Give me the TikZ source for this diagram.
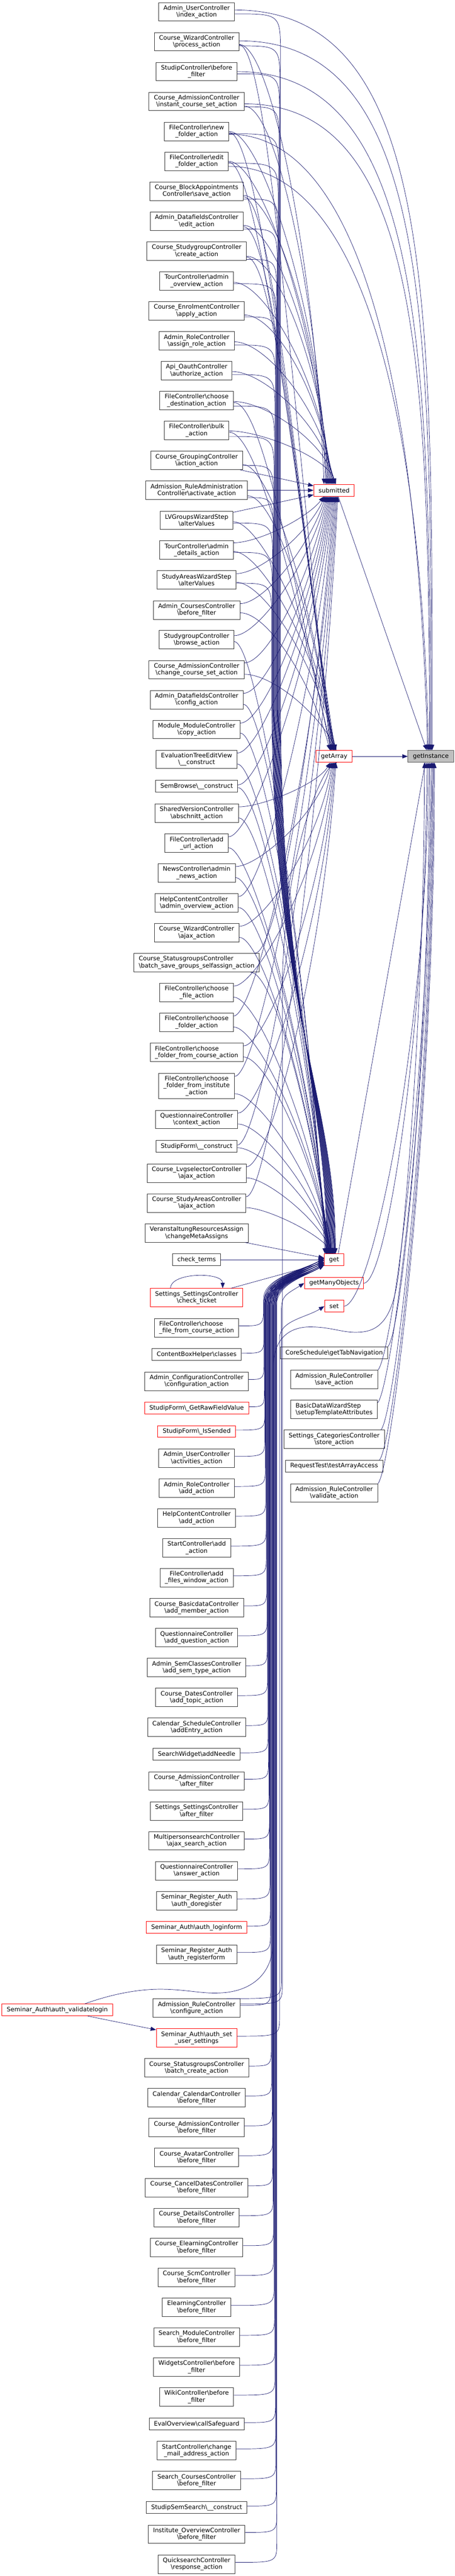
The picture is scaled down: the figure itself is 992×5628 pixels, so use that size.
\documentclass[tikz,border=0pt]{standalone}
\usepackage{fontspec}
\setmainfont{DejaVu Sans}
\usetikzlibrary{arrows.meta,calc}
\definecolor{edgeblue}{HTML}{191970}

\begin{document}
\begin{tikzpicture}[
        x=1pt, y=1pt,
        fn/.style={rectangle, draw=black!80, line width=1.1pt, fill=white, inner xsep=10.5pt, inner ysep=0pt, minimum height=40.3pt, align=center, font=\fontsize{13.3}{15}\selectfont},
        truncated/.style={fn, draw=red},
        one/.style={minimum height=25.7pt},
        three/.style={minimum height=55pt},
        target/.style={fn, one, fill=black!25, draw=black!65},
        call/.style={draw=edgeblue, line width=0.8pt, -{Triangle[length=12pt,width=9pt]}},
        fan/.style n args={3}{to path={let \p1=(\tikztostart), \p2=(\tikztotarget) in .. controls (\x1+#1,\y1) and ($(\p2)!#2!(\x2,\y1)+(#3,0)$) .. (\p2)}},
        rise/.style={to path={let \p1=(\tikztostart), \p2=(\tikztotarget) in .. controls (\x1+#1,\y1+#1) and ($(\p2)!0.5!(\x2,\y1)$) .. (\p2)}},
        bdn/.style={to path={let \p1=(\tikztostart), \p2=(\tikztotarget) in .. controls (#1,\y1) .. (#1,\y1-90) -- (#1,-1550) .. controls (#1+4,-2200) and (\x2,-2400) .. (\p2)}},
        bup/.style 2 args={to path={let \p1=(\tikztostart), \p2=(\tikztotarget) in .. controls (#1,\y1) .. (#1,\y1+45) -- (#1,\y2-#2) .. controls (#1,\y2-0.45*#2) and (\x2-40,\y2-25) .. (\p2)}}
    ]
        \useasboundingbox (0,0) rectangle (992,-5628);

        % callers, left column
        \node[fn] (user_index) at (429,-25.8) {Admin\_UserController\\\textbackslash index\_action};
        \node[fn] (wizard_process) at (429,-91.2) {Course\_WizardController\\\textbackslash process\_action};
        \node[fn] (studip_before) at (429,-156.5) {StudipController\textbackslash before\\\_filter};
        \node[fn] (admission_instant) at (429,-221.8) {Course\_AdmissionController\\\textbackslash instant\_course\_set\_action};
        \node[fn] (file_newfolder) at (429,-287.2) {FileController\textbackslash new\\\_folder\_action};
        \node[fn] (file_editfolder) at (429,-352.5) {FileController\textbackslash edit\\\_folder\_action};
        \node[fn] (block_save) at (429,-417.8) {Course\_BlockAppointments\\Controller\textbackslash save\_action};
        \node[fn] (datafields_edit) at (429,-483.2) {Admin\_DatafieldsController\\\textbackslash edit\_action};
        \node[fn] (studygroup_create) at (429,-548.8) {Course\_StudygroupController\\\textbackslash create\_action};
        \node[fn] (tour_overview) at (429,-613.8) {TourController\textbackslash admin\\\_overview\_action};
        \node[fn] (enrolment_apply) at (429,-679.2) {Course\_EnrolmentController\\\textbackslash apply\_action};
        \node[fn] (role_assign) at (429,-744.8) {Admin\_RoleController\\\textbackslash assign\_role\_action};
        \node[fn] (oauth_authorize) at (429,-809.8) {Api\_OauthController\\\textbackslash authorize\_action};
        \node[fn] (file_destination) at (429,-875.2) {FileController\textbackslash choose\\\_destination\_action};
        \node[fn] (file_bulk) at (429,-940.5) {FileController\textbackslash bulk\\\_action};
        \node[fn] (grouping_action) at (429,-1005.8) {Course\_GroupingController\\\textbackslash action\_action};
        \node[fn] (ruleadmin_activate) at (429,-1071.2) {Admission\_RuleAdministration\\Controller\textbackslash activate\_action};
        \node[fn] (lvgroups_alter) at (429,-1136.8) {LVGroupsWizardStep\\\textbackslash alterValues};
        \node[fn] (tour_details) at (429,-1201.8) {TourController\textbackslash admin\\\_details\_action};
        \node[fn] (studyareas_alter) at (429,-1267.2) {StudyAreasWizardStep\\\textbackslash alterValues};
        \node[fn] (courses_before) at (429,-1332.8) {Admin\_CoursesController\\\textbackslash before\_filter};
        \node[fn] (studygroup_browse) at (429,-1397.8) {StudygroupController\\\textbackslash browse\_action};
        \node[fn] (admission_change) at (429,-1463.2) {Course\_AdmissionController\\\textbackslash change\_course\_set\_action};
        \node[fn] (datafields_config) at (429,-1528.8) {Admin\_DatafieldsController\\\textbackslash config\_action};
        \node[fn] (module_copy) at (429,-1593.8) {Module\_ModuleController\\\textbackslash copy\_action};
        \node[fn] (evaltree_construct) at (429,-1659.2) {EvaluationTreeEditView\\\textbackslash\_\_construct};
        \node[fn,one] (sembrowse_construct) at (429,-1717.8) {SemBrowse\textbackslash\_\_construct};
        \node[fn] (shared_abschnitt) at (429,-1776.8) {SharedVersionController\\\textbackslash abschnitt\_action};
        \node[fn] (file_addurl) at (429,-1842.2) {FileController\textbackslash add\\\_url\_action};
        \node[fn] (news_admin) at (429,-1907.2) {NewsController\textbackslash admin\\\_news\_action};
        \node[fn,align=left] (help_overview) at (429,-1972.8) {HelpContentController\\\textbackslash admin\_overview\_action};
        \node[fn] (wizard_ajax) at (429,-2037.8) {Course\_WizardController\\\textbackslash ajax\_action};
        \node[fn,align=left] (statusgroups_selfassign) at (429,-2103.2) {Course\_StatusgroupsController\\\textbackslash batch\_save\_groups\_selfassign\_action};
        \node[fn] (file_choosefile) at (429,-2168.5) {FileController\textbackslash choose\\\_file\_action};
        \node[fn] (file_choosefolder) at (429,-2233.8) {FileController\textbackslash choose\\\_folder\_action};
        \node[fn,align=left] (file_foldercourse) at (429,-2299.2) {FileController\textbackslash choose\\\_folder\_from\_course\_action};
        \node[fn,three] (file_folderinst) at (429,-2372.5) {FileController\textbackslash choose\\\_folder\_from\_institute\\\_action};
        \node[fn] (questionnaire_context) at (429,-2445.8) {QuestionnaireController\\\textbackslash context\_action};
        \node[fn,one] (form_construct) at (429,-2504.5) {StudipForm\textbackslash\_\_construct};
        \node[fn] (lvgselector_ajax) at (429,-2563.2) {Course\_LvgselectorController\\\textbackslash ajax\_action};
        \node[fn] (studyareas_ajax) at (429,-2628.5) {Course\_StudyAreasController\\\textbackslash ajax\_action};
        \node[fn] (resources_change) at (429,-2693.8) {VeranstaltungResourcesAssign\\\textbackslash changeMetaAssigns};
        \node[fn,one] (check_terms) at (429,-2752.5) {check\_terms};
        \node[truncated] (settings_ticket) at (429,-2835.2) {Settings\_SettingsController\\\textbackslash check\_ticket};
        \node[fn,align=left] (file_filecourse) at (429,-2900.8) {FileController\textbackslash choose\\\_file\_from\_course\_action};
        \node[fn,one] (contentbox_classes) at (429,-2959.5) {ContentBoxHelper\textbackslash classes};
        \node[fn] (configuration_action) at (429,-3017.8) {Admin\_ConfigurationController\\\textbackslash configuration\_action};
        \node[truncated,one] (form_rawvalue) at (429,-3076.5) {StudipForm\textbackslash\_GetRawFieldValue};
        \node[truncated,one] (form_issended) at (429,-3127.5) {StudipForm\textbackslash\_IsSended};
        \node[fn] (user_activities) at (429,-3185.8) {Admin\_UserController\\\textbackslash activities\_action};
        \node[fn] (role_add) at (429,-3251.5) {Admin\_RoleController\\\textbackslash add\_action};
        \node[fn] (help_add) at (429,-3316.5) {HelpContentController\\\textbackslash add\_action};
        \node[fn] (start_add) at (429,-3381.8) {StartController\textbackslash add\\\_action};
        \node[fn] (file_addwindow) at (429,-3446.8) {FileController\textbackslash add\\\_files\_window\_action};
        \node[fn] (basicdata_member) at (429,-3512.5) {Course\_BasicdataController\\\textbackslash add\_member\_action};
        \node[fn] (questionnaire_addq) at (429,-3577.8) {QuestionnaireController\\\textbackslash add\_question\_action};
        \node[fn] (semclasses_add) at (429,-3643.2) {Admin\_SemClassesController\\\textbackslash add\_sem\_type\_action};
        \node[fn] (dates_topic) at (429,-3708.5) {Course\_DatesController\\\textbackslash add\_topic\_action};
        \node[fn] (schedule_add) at (429,-3773.8) {Calendar\_ScheduleController\\\textbackslash addEntry\_action};
        \node[fn,one] (search_needle) at (429,-3832.5) {SearchWidget\textbackslash addNeedle};
        \node[fn] (admission_after) at (429,-3891.2) {Course\_AdmissionController\\\textbackslash after\_filter};
        \node[fn] (settings_after) at (429,-3956.8) {Settings\_SettingsController\\\textbackslash after\_filter};
        \node[fn] (multiperson_ajax) at (429,-4021.8) {MultipersonsearchController\\\textbackslash ajax\_search\_action};
        \node[fn] (questionnaire_answer) at (429,-4087.2) {QuestionnaireController\\\textbackslash answer\_action};
        \node[fn] (register_do) at (429,-4152.8) {Seminar\_Register\_Auth\\\textbackslash auth\_doregister};
        \node[truncated,one] (auth_loginform) at (429,-4211.2) {Seminar\_Auth\textbackslash auth\_loginform};
        \node[fn] (register_form) at (429,-4269.8) {Seminar\_Register\_Auth\\\textbackslash auth\_registerform};
        \node[fn] (rule_configure) at (429,-4387.2) {Admission\_RuleController\\\textbackslash configure\_action};
        \node[truncated] (auth_usersettings) at (429,-4452.5) {Seminar\_Auth\textbackslash auth\_set\\\_user\_settings};
        \node[truncated,one] (auth_validatelogin) at (125,-4391.2) {Seminar\_Auth\textbackslash auth\_validatelogin};
        \node[fn] (statusgroups_create) at (429,-4517.8) {Course\_StatusgroupsController\\\textbackslash batch\_create\_action};
        \node[fn] (calendar_before) at (429,-4583.2) {Calendar\_CalendarController\\\textbackslash before\_filter};
        \node[fn] (admission_before) at (429,-4648.5) {Course\_AdmissionController\\\textbackslash before\_filter};
        \node[fn] (avatar_before) at (429,-4713.8) {Course\_AvatarController\\\textbackslash before\_filter};
        \node[fn] (canceldates_before) at (429,-4779.5) {Course\_CancelDatesController\\\textbackslash before\_filter};
        \node[fn] (details_before) at (429,-4844.8) {Course\_DetailsController\\\textbackslash before\_filter};
        \node[fn] (celearning_before) at (429,-4910.2) {Course\_ElearningController\\\textbackslash before\_filter};
        \node[fn] (scm_before) at (429,-4975.5) {Course\_ScmController\\\textbackslash before\_filter};
        \node[fn] (elearning_before) at (429,-5040.8) {ElearningController\\\textbackslash before\_filter};
        \node[fn] (searchmodule_before) at (429,-5106.2) {Search\_ModuleController\\\textbackslash before\_filter};
        \node[fn] (widgets_before) at (429,-5171.5) {WidgetsController\textbackslash before\\\_filter};
        \node[fn] (wiki_before) at (429,-5236.8) {WikiController\textbackslash before\\\_filter};
        \node[fn,one] (eval_safeguard) at (429,-5295.8) {EvalOverview\textbackslash callSafeguard};
        \node[fn] (start_mail) at (429,-5354.2) {StartController\textbackslash change\\\_mail\_address\_action};
        \node[fn] (searchcourses_before) at (429,-5419.5) {Search\_CoursesController\\\textbackslash before\_filter};
        \node[fn,one] (semsearch_construct) at (429,-5478.2) {StudipSemSearch\textbackslash\_\_construct};
        \node[fn] (institute_before) at (429,-5536.8) {Institute\_OverviewController\\\textbackslash before\_filter};
        \node[fn] (quicksearch_response) at (429,-5602.2) {QuicksearchController\\\textbackslash response\_action};

        % Request methods and direct callers, middle column
        \node[truncated,one] (submitted) at (729,-1071.2) {submitted};
        \node[truncated,one] (get_array) at (729,-1652.5) {getArray};
        \node[target] (get_instance) at (940,-1652.5) {getInstance};
        \node[truncated,one] (get_value) at (729,-2752.5) {get};
        \node[truncated,one] (get_many) at (729,-2803.3) {getManyObjects};
        \node[truncated,one] (set_value) at (729,-2853.7) {set};
        \node[fn,one] (schedule_tabs) at (729,-2955.5) {CoreSchedule\textbackslash getTabNavigation};
        \node[fn] (rule_save) at (729,-3014) {Admission\_RuleController\\\textbackslash save\_action};
        \node[fn,align=left] (basic_template) at (729,-3079.2) {BasicDataWizardStep\\\textbackslash setupTemplateAttributes};
        \node[fn] (categories_store) at (729,-3144.5) {Settings\_CategoriesController\\\textbackslash store\_action};
        \node[fn,one] (request_test) at (729,-3203.2) {RequestTest\textbackslash testArrayAccess};
        \node[fn] (rule_validate) at (729,-3262) {Admission\_RuleController\\\textbackslash validate\_action};

        % into getInstance
        \draw[call] (get_array) -- (get_instance);
        \draw[call] ([xshift=9pt]submitted.south) -- ([xshift=-9pt]get_instance.north);
        \draw[call] ([xshift=9pt]get_value.north) -- ([xshift=-12pt]get_instance.south);
        \draw[call,fan={50}{0.5}{0}] (get_many.east) to ([xshift=-9pt]get_instance.south);
        \draw[call,fan={60}{0.5}{0}] (set_value.east) to ([xshift=-6pt]get_instance.south);
        \draw[call,rise=30] (schedule_tabs.north east) to ([xshift=-3pt]get_instance.south);
        \draw[call,rise=30] (rule_save.north east) to (get_instance.south);
        \draw[call,rise=30] ([yshift=-6pt]basic_template.north east) to ([xshift=2pt]get_instance.south);
        \draw[call,rise=30] ([xshift=-8pt]categories_store.north east) to ([xshift=4pt]get_instance.south);
        \draw[call,rise=30] ([xshift=-8pt]request_test.north east) to ([xshift=6pt]get_instance.south);
        \draw[call,rise=30] (rule_validate.north east) to ([xshift=8pt]get_instance.south);
        \draw[call,fan={440}{0.6}{0}] ([yshift=4pt]user_index.east) to ([xshift=3pt]get_instance.north);
        \draw[call,fan={420}{0.6}{0}] ([yshift=2pt]wizard_process.east) to ([xshift=1pt]get_instance.north);
        \draw[call,fan={400}{0.6}{0}] (studip_before.east) to ([xshift=-1pt]get_instance.north);
        \draw[call,fan={380}{0.6}{0}] ([yshift=-5pt]admission_instant.east) to ([xshift=-3pt]get_instance.north);
        \draw[call,fan={300}{0.55}{-20}] ([yshift=-6pt]file_newfolder.east) to ([xshift=-7pt]get_instance.north);
        \draw[call,fan={300}{0.55}{-15}] ([yshift=-11pt]file_editfolder.east) to ([xshift=-5pt]get_instance.north);

        % into submitted
        \draw[call,fan={70}{0.5}{-20}] ([yshift=-6pt]wizard_process.east) to ([xshift=-22pt]submitted.north);
        \draw[call,fan={70}{0.5}{-20}] ([yshift=-10pt]admission_instant.east) to ([xshift=-18pt]submitted.north);
        \draw[call,fan={70}{0.5}{-20}] (file_newfolder.east) to ([xshift=-14pt]submitted.north);
        \draw[call,fan={70}{0.5}{-20}] (file_editfolder.east) to ([xshift=-16pt]submitted.north);
        \draw[call,fan={70}{0.5}{-20}] ([yshift=-9pt]block_save.east) to ([xshift=-12pt]submitted.north);
        \draw[call,fan={70}{0.5}{-20}] ([yshift=-9pt]datafields_edit.east) to ([xshift=-10pt]submitted.north);
        \draw[call,fan={70}{0.5}{-20}] ([yshift=-11pt]studygroup_create.east) to ([xshift=-8pt]submitted.north);
        \draw[call,fan={70}{0.5}{-20}] ([yshift=-3pt]tour_overview.east) to ([xshift=-6pt]submitted.north);
        \draw[call,fan={70}{0.5}{-20}] ([yshift=-9pt]enrolment_apply.east) to ([xshift=-4pt]submitted.north);
        \draw[call,fan={70}{0.5}{-20}] ([yshift=-2pt]role_assign.east) to ([xshift=-2pt]submitted.north);
        \draw[call,fan={70}{0.5}{-20}] ([yshift=-2pt]oauth_authorize.east) to (submitted.north);
        \draw[call,fan={70}{0.5}{-20}] ([yshift=-2pt]file_destination.east) to ([xshift=2pt]submitted.north);
        \draw[call,fan={70}{0.5}{-20}] ([yshift=-1pt]file_bulk.east) to ([xshift=4pt]submitted.north);
        \draw[call] (grouping_action) -- (submitted);
        \draw[call] (ruleadmin_activate) -- (submitted);
        \draw[call] (lvgroups_alter) -- (submitted);
        \draw[call,fan={50}{0.5}{-40}] ([yshift=16pt]tour_details.east) to ([xshift=-22pt]submitted.south);
        \draw[call,fan={50}{0.5}{-40}] ([yshift=14pt]studyareas_alter.east) to ([xshift=-20pt]submitted.south);
        \draw[call,fan={50}{0.5}{-40}] ([yshift=14pt]courses_before.east) to ([xshift=-18pt]submitted.south);
        \draw[call,fan={50}{0.5}{-40}] ([yshift=9pt]studygroup_browse.east) to ([xshift=-16pt]submitted.south);
        \draw[call,fan={50}{0.5}{-40}] ([yshift=15pt]admission_change.east) to ([xshift=-14pt]submitted.south);
        \draw[call,fan={50}{0.5}{-40}] ([yshift=14pt]datafields_config.east) to ([xshift=-12pt]submitted.south);
        \draw[call,fan={50}{0.5}{-40}] ([yshift=14pt]module_copy.east) to ([xshift=-10pt]submitted.south);
        \draw[call,fan={50}{0.5}{-40}] ([yshift=14pt]evaltree_construct.east) to ([xshift=-8pt]submitted.south);
        \draw[call,fan={50}{0.5}{-40}] ([yshift=3pt]sembrowse_construct.east) to ([xshift=-6pt]submitted.south);
        \draw[call,fan={50}{0.5}{-40}] ([yshift=14pt]file_addurl.east) to ([xshift=-4pt]submitted.south);
        \draw[call,fan={50}{0.5}{-40}] ([yshift=14pt]help_overview.east) to ([xshift=-2pt]submitted.south);
        \draw[call,fan={50}{0.5}{-40}] ([xshift=-10pt]statusgroups_selfassign.north east) to (submitted.south);
        \draw[call,fan={50}{0.5}{-40}] ([yshift=14pt]file_choosefolder.east) to ([xshift=2pt]submitted.south);
        \draw[call,fan={50}{0.5}{-40}] ([yshift=21pt]file_folderinst.east) to ([xshift=4pt]submitted.south);
        \draw[call,fan={50}{0.5}{-40}] ([yshift=3pt]form_construct.east) to ([xshift=6pt]submitted.south);
        \draw[call,fan={50}{0.5}{-40}] ([yshift=14pt]studyareas_ajax.east) to ([xshift=8pt]submitted.south);

        % into getArray
        \draw[call,fan={60}{0.55}{-90}] ([yshift=-7pt]wizard_process.east) to ([xshift=-8pt]get_array.north);
        \draw[call,fan={60}{0.55}{-90}] ([yshift=-2pt]file_newfolder.east) to ([xshift=-6pt]get_array.north);
        \draw[call,fan={60}{0.55}{-90}] ([yshift=-2pt]file_editfolder.east) to ([xshift=-4pt]get_array.north);
        \draw[call,fan={60}{0.55}{-90}] ([yshift=-12pt]block_save.east) to ([xshift=-2pt]get_array.north);
        \draw[call,fan={60}{0.55}{-90}] ([yshift=-12pt]datafields_edit.east) to (get_array.north);
        \draw[call,fan={60}{0.55}{-90}] ([yshift=-13pt]studygroup_create.east) to ([xshift=2pt]get_array.north);
        \draw[call,fan={60}{0.55}{-90}] ([yshift=-4pt]file_destination.east) to ([xshift=-7pt]get_array.north);
        \draw[call,fan={60}{0.55}{-90}] ([yshift=-4pt]file_bulk.east) to ([xshift=-5pt]get_array.north);
        \draw[call,fan={60}{0.5}{-40}] ([yshift=-9pt]grouping_action.east) to ([xshift=-3pt]get_array.north);
        \draw[call,fan={60}{0.5}{-40}] ([yshift=-12pt]ruleadmin_activate.east) to ([xshift=-1pt]get_array.north);
        \draw[call,fan={60}{0.5}{-40}] ([yshift=-3pt]lvgroups_alter.east) to ([xshift=1pt]get_array.north);
        \draw[call,fan={60}{0.5}{-40}] ([yshift=-3pt]tour_details.east) to ([xshift=3pt]get_array.north);
        \draw[call,fan={60}{0.5}{-40}] ([yshift=-5pt]studyareas_alter.east) to ([xshift=4pt]get_array.north);
        \draw[call,fan={60}{0.5}{-40}] ([yshift=-6pt]courses_before.east) to ([xshift=-9pt]get_array.north);
        \draw[call,fan={60}{0.5}{-40}] ([yshift=-10pt]admission_change.east) to ([xshift=5pt]get_array.north);
        \draw[call,fan={50}{0.5}{-30}] ([yshift=14pt]shared_abschnitt.east) to ([xshift=-8pt]get_array.south);
        \draw[call,fan={50}{0.5}{-30}] ([yshift=14pt]news_admin.east) to ([xshift=-6pt]get_array.south);
        \draw[call,fan={50}{0.5}{-30}] ([yshift=14pt]wizard_ajax.east) to ([xshift=-4pt]get_array.south);
        \draw[call,fan={50}{0.5}{-30}] ([yshift=14pt]file_choosefile.east) to ([xshift=-2pt]get_array.south);
        \draw[call,fan={50}{0.5}{-30}] ([yshift=14pt]file_foldercourse.east) to (get_array.south);
        \draw[call,fan={50}{0.5}{-30}] ([yshift=14pt]questionnaire_context.east) to ([xshift=2pt]get_array.south);
        \draw[call,fan={50}{0.5}{-30}] ([yshift=14pt]lvgselector_ajax.east) to ([xshift=4pt]get_array.south);
        \draw[call,bup={616}{500}] ([yshift=9pt]rule_configure.east) to ([xshift=6pt]get_array.south);

        % into get, from above
        \draw[call,bdn=612] ([yshift=-4.5pt]user_index.east) to ([xshift=-16pt]get_value.north);
        \draw[call,bdn=611] ([yshift=-9pt]wizard_process.east) to ([xshift=-15pt]get_value.north);
        \draw[call,bdn=610] ([yshift=-5pt]studip_before.east) to ([xshift=-14pt]get_value.north);
        \draw[call,bdn=609] ([yshift=-11.5pt]admission_instant.east) to ([xshift=-13pt]get_value.north);
        \draw[call,bdn=608] ([yshift=-5pt]file_newfolder.east) to ([xshift=-12pt]get_value.north);
        \draw[call,bdn=607] ([yshift=-4pt]file_editfolder.east) to ([xshift=-11pt]get_value.north);
        \draw[call,bdn=606] ([yshift=-17pt]block_save.east) to ([xshift=-10pt]get_value.north);
        \draw[call,bdn=605] ([yshift=-17pt]datafields_edit.east) to ([xshift=-9pt]get_value.north);
        \draw[call,bdn=604] ([yshift=-18pt]studygroup_create.east) to ([xshift=-8pt]get_value.north);
        \draw[call,bdn=603] ([yshift=-6pt]tour_overview.east) to ([xshift=-7pt]get_value.north);
        \draw[call,bdn=602] ([yshift=-13pt]enrolment_apply.east) to ([xshift=-6pt]get_value.north);
        \draw[call,bdn=601] ([yshift=-9pt]role_assign.east) to ([xshift=-5pt]get_value.north);
        \draw[call,bdn=600] ([yshift=-8.5pt]oauth_authorize.east) to ([xshift=-4pt]get_value.north);
        \draw[call,bdn=599] ([yshift=-12pt]file_destination.east) to ([xshift=-3pt]get_value.north);
        \draw[call,bdn=598] ([yshift=-13pt]file_bulk.east) to ([xshift=-2pt]get_value.north);
        \draw[call,bdn=597] ([yshift=-11pt]grouping_action.east) to ([xshift=-1pt]get_value.north);
        \draw[call,bdn=596] ([yshift=-16pt]ruleadmin_activate.east) to (get_value.north);
        \draw[call,bdn=595] ([yshift=-6pt]lvgroups_alter.east) to ([xshift=1pt]get_value.north);
        \draw[call,bdn=594] ([yshift=-5pt]tour_details.east) to ([xshift=2pt]get_value.north);
        \draw[call,bdn=593] ([yshift=-7pt]studyareas_alter.east) to ([xshift=3pt]get_value.north);
        \draw[call,fan={50}{0.5}{-40}] ([yshift=-4pt]studygroup_browse.east) to ([xshift=-20pt]get_value.north);
        \draw[call,fan={50}{0.5}{-40}] ([yshift=-10pt]datafields_config.east) to ([xshift=-18pt]get_value.north);
        \draw[call,fan={50}{0.5}{-40}] ([yshift=-8pt]module_copy.east) to ([xshift=-17pt]get_value.north);
        \draw[call,fan={50}{0.5}{-40}] ([yshift=-10pt]evaltree_construct.east) to ([xshift=-16pt]get_value.north);
        \draw[call,fan={50}{0.5}{-40}] ([yshift=-3pt]sembrowse_construct.east) to ([xshift=-15pt]get_value.north);
        \draw[call,fan={50}{0.5}{-40}] ([yshift=-10pt]shared_abschnitt.east) to ([xshift=-14pt]get_value.north);
        \draw[call,fan={50}{0.5}{-40}] ([yshift=-10pt]file_addurl.east) to ([xshift=-13pt]get_value.north);
        \draw[call,fan={50}{0.5}{-40}] ([yshift=-10pt]news_admin.east) to ([xshift=-12pt]get_value.north);
        \draw[call,fan={50}{0.5}{-40}] ([yshift=-10pt]help_overview.east) to ([xshift=-11pt]get_value.north);
        \draw[call,fan={50}{0.5}{-40}] ([yshift=-10pt]wizard_ajax.east) to ([xshift=-10pt]get_value.north);
        \draw[call,fan={50}{0.5}{-40}] ([xshift=-20pt]statusgroups_selfassign.south east) to ([xshift=-9pt]get_value.north);
        \draw[call,fan={50}{0.5}{-40}] ([yshift=-10pt]file_choosefile.east) to ([xshift=-8pt]get_value.north);
        \draw[call,fan={50}{0.5}{-40}] ([yshift=-10pt]file_choosefolder.east) to ([xshift=-7pt]get_value.north);
        \draw[call,fan={50}{0.5}{-40}] ([yshift=-10pt]file_foldercourse.east) to ([xshift=-6pt]get_value.north);
        \draw[call,fan={50}{0.5}{-40}] ([yshift=-17pt]file_folderinst.east) to ([xshift=-5pt]get_value.north);
        \draw[call,fan={50}{0.5}{-40}] ([yshift=-10pt]questionnaire_context.east) to ([xshift=-4pt]get_value.north);
        \draw[call,fan={50}{0.5}{-40}] ([yshift=-3pt]form_construct.east) to ([xshift=-3pt]get_value.north);
        \draw[call,fan={40}{0.5}{-40}] ([yshift=-10pt]lvgselector_ajax.east) to ([xshift=-2pt]get_value.north);
        \draw[call,fan={40}{0.5}{-40}] ([yshift=-10pt]studyareas_ajax.east) to ([xshift=-1pt]get_value.north);
        \draw[call] (resources_change) -- (get_value);
        \draw[call] (check_terms) -- (get_value);
        \draw[call] (settings_ticket) -- (get_value);
        \draw[call] (settings_ticket.160) to[out=90,in=90,looseness=0.8] (settings_ticket.20);

        % into get, from below
        \draw[call,bup={575}{90}] ([yshift=4pt]file_filecourse.east) to ([yshift=4pt]get_value.west);
        \draw[call,bup={576}{90}] ([yshift=3pt]contentbox_classes.east) to (get_value.west);
        \draw[call,bup={576}{90}] ([yshift=4pt]configuration_action.east) to ([yshift=-4pt]get_value.west);
        \draw[call,bup={577}{90}] ([yshift=3pt]form_rawvalue.east) to ([yshift=-8pt]get_value.west);
        \draw[call,bup={578}{90}] ([yshift=3pt]form_issended.east) to ([yshift=-11pt]get_value.west);
        \draw[call,bup={578}{90}] ([yshift=4pt]user_activities.east) to ([yshift=4pt]get_value.west);
        \draw[call,bup={579}{90}] ([yshift=4pt]role_add.east) to (get_value.west);
        \draw[call,bup={580}{90}] ([yshift=4pt]help_add.east) to ([yshift=-4pt]get_value.west);
        \draw[call,bup={581}{90}] ([yshift=4pt]start_add.east) to ([yshift=-8pt]get_value.west);
        \draw[call,bup={581}{90}] ([yshift=4pt]file_addwindow.east) to ([yshift=-11pt]get_value.west);
        \draw[call,bup={582}{90}] ([yshift=4pt]basicdata_member.east) to ([yshift=4pt]get_value.west);
        \draw[call,bup={583}{90}] ([yshift=4pt]questionnaire_addq.east) to (get_value.west);
        \draw[call,bup={583}{90}] ([yshift=4pt]semclasses_add.east) to ([yshift=-4pt]get_value.west);
        \draw[call,bup={584}{90}] ([yshift=4pt]dates_topic.east) to ([yshift=-8pt]get_value.west);
        \draw[call,bup={585}{90}] ([yshift=4pt]schedule_add.east) to ([yshift=-11pt]get_value.west);
        \draw[call,bup={585}{90}] ([yshift=3pt]search_needle.east) to ([yshift=4pt]get_value.west);
        \draw[call,bup={586}{90}] ([yshift=4pt]admission_after.east) to (get_value.west);
        \draw[call,bup={587}{90}] ([yshift=4pt]settings_after.east) to ([yshift=-4pt]get_value.west);
        \draw[call,bup={588}{90}] ([yshift=4pt]multiperson_ajax.east) to ([yshift=-8pt]get_value.west);
        \draw[call,bup={588}{90}] ([yshift=4pt]questionnaire_answer.east) to ([yshift=-11pt]get_value.west);
        \draw[call,bup={589}{90}] ([yshift=4pt]register_do.east) to ([yshift=4pt]get_value.west);
        \draw[call,bup={590}{90}] ([yshift=3pt]auth_loginform.east) to (get_value.west);
        \draw[call,bup={590}{90}] ([yshift=4pt]register_form.east) to ([yshift=-4pt]get_value.west);
        \draw[call,bup={591}{90}] ([yshift=6pt]rule_configure.east) to ([yshift=-8pt]get_value.west);
        \draw[call,bup={592}{90}] ([yshift=4pt]statusgroups_create.east) to ([yshift=-11pt]get_value.west);
        \draw[call,bup={593}{90}] ([yshift=4pt]calendar_before.east) to ([yshift=4pt]get_value.west);
        \draw[call,bup={594}{90}] ([yshift=4pt]admission_before.east) to (get_value.west);
        \draw[call,bup={595}{90}] ([yshift=4pt]avatar_before.east) to ([yshift=-4pt]get_value.west);
        \draw[call,bup={595}{90}] ([yshift=4pt]canceldates_before.east) to ([yshift=-8pt]get_value.west);
        \draw[call,bup={596}{90}] ([yshift=4pt]details_before.east) to ([yshift=-11pt]get_value.west);
        \draw[call,bup={597}{90}] ([yshift=4pt]celearning_before.east) to ([yshift=4pt]get_value.west);
        \draw[call,bup={597}{90}] ([yshift=4pt]scm_before.east) to (get_value.west);
        \draw[call,bup={598}{90}] ([yshift=4pt]elearning_before.east) to ([yshift=-4pt]get_value.west);
        \draw[call,bup={599}{90}] ([yshift=4pt]searchmodule_before.east) to ([yshift=-8pt]get_value.west);
        \draw[call,bup={600}{90}] ([yshift=4pt]widgets_before.east) to ([yshift=-11pt]get_value.west);
        \draw[call,bup={600}{90}] ([yshift=4pt]wiki_before.east) to ([yshift=4pt]get_value.west);
        \draw[call,bup={601}{90}] ([yshift=3pt]eval_safeguard.east) to (get_value.west);
        \draw[call,bup={602}{90}] ([yshift=4pt]start_mail.east) to ([yshift=-4pt]get_value.west);
        \draw[call,bup={602}{90}] ([yshift=4pt]searchcourses_before.east) to ([yshift=-8pt]get_value.west);
        \draw[call,bup={603}{90}] ([yshift=3pt]semsearch_construct.east) to ([yshift=-11pt]get_value.west);
        \draw[call,bup={604}{90}] ([yshift=4pt]institute_before.east) to ([yshift=4pt]get_value.west);
        \draw[call,bup={604}{90}] ([yshift=4pt]quicksearch_response.east) to (get_value.west);

        % getManyObjects, set and the login chain
        \draw[call,bup={614}{60}] ([xshift=-30pt]rule_configure.north east) to (get_many.west);
        \draw[call,bup={610}{70}] ([yshift=4pt]auth_usersettings.east) to (set_value.west);
        \draw[call] (auth_validatelogin) -- (auth_usersettings);
        \draw[call] ([xshift=60pt]auth_validatelogin.north) .. controls (240,-4358) and (300,-4345) .. (356,-4346)
            .. controls (410,-4347) and (440,-4356) .. (480,-4354) .. controls (540,-4352) and (596,-4320) .. (596,-4240)
            -- (596,-2990) .. controls (596,-2925) and (630,-2898) .. (680,-2899)
            .. controls (730,-2900) and (750,-2914) .. (790,-2910) .. controls (840,-2905) and (860,-2860) .. (870,-2780)
            .. controls (885,-2650) and (926,-2200) .. ([xshift=-14pt]get_instance.south);

    \end{tikzpicture}
\end{document}
